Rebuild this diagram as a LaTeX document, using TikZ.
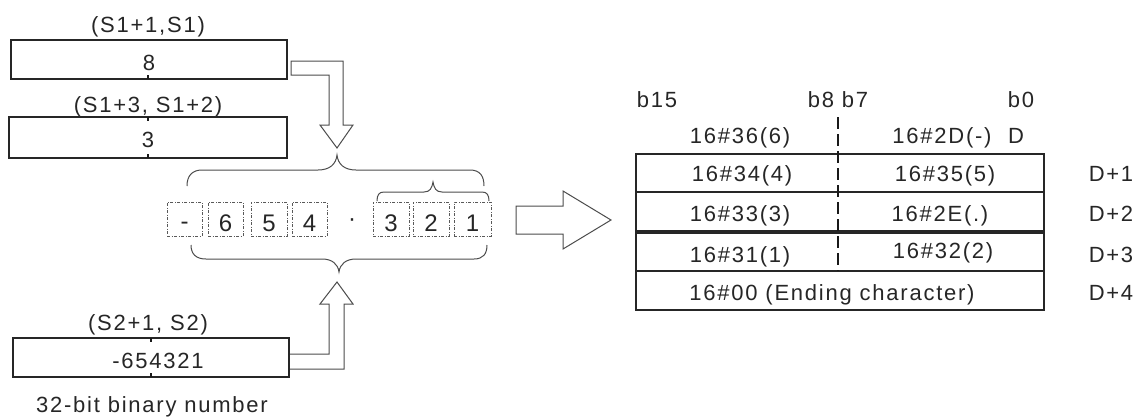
\documentclass[tikz,border=0pt]{standalone}
\usepackage{fontspec}
\newfontfamily\lbl{Liberation Sans}[LetterSpace=8]
\begin{document}
\begin{tikzpicture}[x=1pt,y=-1pt,
  txt/.style={font=\lbl\fontsize{22}{26}\selectfont, inner sep=0pt, anchor=base, text=black!85},
  digit/.style={font=\lbl\fontsize{24}{28}\selectfont, inner sep=0pt, text=black!85},
  regbox/.style={draw=black!85, line width=2pt, inner sep=0pt},
  tick/.style={draw=black!90, line width=2.5pt},
  hollow/.style={draw=black!70, line width=1pt, fill=white, line join=miter},
  brace/.style={draw=black!70, line width=1pt},
  dbox/.style={draw=black!65, line width=0.8pt, dash pattern=on 3pt off 1.5pt on 1pt off 1.5pt, inner sep=0pt, minimum height=34pt},
  tline/.style={draw=black!85, line width=2pt},
  cdash/.style={draw=black!90, line width=2.5pt, dash pattern=on 12pt off 5pt}]
\useasboundingbox (0,0) rectangle (1136,418);
% source registers
\node[regbox, minimum width=276pt, minimum height=39pt] (s1) at (149,59.5) {};
\node[regbox, minimum width=278pt, minimum height=41pt] (s3) at (148,137.5) {};
\node[regbox, minimum width=276pt, minimum height=39pt] (s2) at (151,357.5) {};
\draw[tick] (148,75) -- (148,79);
\draw[tick] (148,117) -- (148,121);
\draw[tick] (148,154) -- (148,158);
\draw[tick] (151,338) -- (151,342);
\draw[tick] (151,373) -- (151,377);
\node[txt] (ls1) at (148,32) {(S1+1,S1)};
\node[txt] (v1) at (149,70) {8};
\node[txt] (ls3) at (148,112) {(S1+3, S1+2)};
\node[txt] (v3) at (148,147) {3};
\node[txt] (ls2) at (148,330) {(S2+1, S2)};
\node[txt] (v2) at (158,368) {-654321};
\node[txt] (cap) at (152,412) {32-bit binary number};
% hollow arrows
\draw[hollow] (291,61) -- (343,61) -- (343,125) -- (353,125) -- (337,148) -- (320,125) -- (329,125) -- (329,75) -- (291,75) -- cycle;
\draw[hollow] (s2.east |- 0,354) -- (329,354) -- (329,304) -- (320,304) -- (337,282) -- (353,304) -- (344,304) -- (344,369) -- (s2.east |- 0,369);
\draw[hollow] (516,206) -- (563,206) -- (563,191) -- (611,220) -- (563,249) -- (563,234) -- (516,234) -- cycle;
% braces
\draw[brace] (187,186) .. controls (187,176) and (192,170) .. (202,170) -- (318,170) .. controls (330,170) and (336,164) .. (337,155) .. controls (338,164) and (344,170) .. (356,170) -- (470,170) .. controls (480,170) and (484,176) .. (484,186);
\draw[brace] (191,245) .. controls (191,254) and (196,259) .. (206,259) -- (322,259) .. controls (332,259) and (338,264) .. (339,272) .. controls (340,264) and (346,259) .. (356,259) -- (474,259) .. controls (483,259) and (487,254) .. (487,245);
\draw[brace] (377,201) .. controls (377,195) and (379,192) .. (384,192) -- (424,192) .. controls (430,192) and (432,188) .. (433,182) .. controls (434,188) and (436,192) .. (442,192) -- (482,192) .. controls (487,192) and (489,195) .. (489,201);
% digit boxes
\node[dbox, minimum width=35pt] (dm) at (184.5,219) {};
\node[digit, anchor=base] at (184.5,229) {-};
\node[dbox, minimum width=35pt] (d6) at (225.5,219) {};
\node[digit, anchor=base] at (225.5,231) {6};
\node[dbox, minimum width=36pt] (d5) at (269,219) {};
\node[digit, anchor=base] at (269,231) {5};
\node[dbox, minimum width=35pt] (d4) at (309.5,219) {};
\node[digit, anchor=base] at (309.5,231) {4};
\node[digit, anchor=base] (dot) at (352,226) {·};
\node[dbox, minimum width=36pt] (d3) at (391,219) {};
\node[digit, anchor=base] at (391,231) {3};
\node[dbox, minimum width=36pt] (d2) at (431,219) {};
\node[digit, anchor=base] at (431,231) {2};
\node[dbox, minimum width=37pt] (d1) at (472.5,219) {};
\node[digit, anchor=base] at (472.5,231) {1};
% table
\node[regbox, minimum width=408pt, minimum height=156pt] (tab) at (840,232) {};
\draw[tline] (tab.west |- 0,192) -- (tab.east |- 0,192);
\draw[tline, line width=3.5pt] (tab.west |- 0,232) -- (tab.east |- 0,232);
\draw[tline] (tab.west |- 0,271) -- (tab.east |- 0,271);
\draw[cdash] (838,117) -- (838,271);
\node[txt] at (657,107) {b15};
\node[txt] at (838,107) {b8 b7};
\node[txt] at (1021,107) {b0};
\node[txt] at (740,143) {16\#36(6)};
\node[txt] at (942,143) {16\#2D(-)};
\node[txt] at (1016,143) {D};
\node[txt] at (742,181) {16\#34(4)};
\node[txt] at (945,181) {16\#35(5)};
\node[txt] at (1111,181) {D+1};
\node[txt] at (740,221) {16\#33(3)};
\node[txt] at (940,221) {16\#2E(.)};
\node[txt] at (1111,221) {D+2};
\node[txt] at (740,262) {16\#31(1)};
\node[txt] at (943,258) {16\#32(2)};
\node[txt] at (1111,262) {D+3};
\node[txt] at (832,300) {16\#00 (Ending character)};
\node[txt] at (1111,300) {D+4};
\end{tikzpicture}
\end{document}
